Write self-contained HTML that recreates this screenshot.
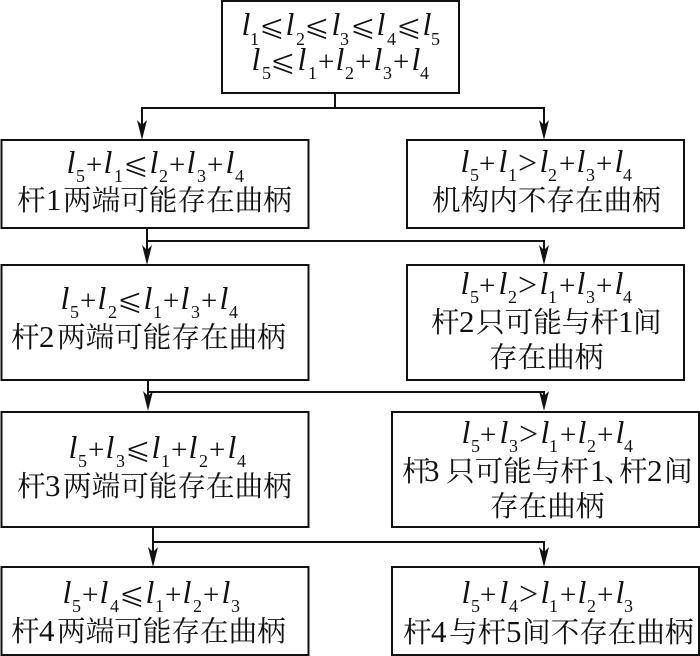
<!DOCTYPE html>
<html lang="zh"><head><meta charset="utf-8"><title>曲柄存在条件</title>
<style>
html,body{margin:0;padding:0;background:#fff}
svg{display:block}
.b{fill:#fff;stroke:#111;stroke-width:2}
.c{stroke:#111;stroke-width:2;fill:none}
.i{font:italic 32px "Liberation Serif",serif;fill:#111;transform:translateX(-1.5px)}
.s{font:18px "Liberation Serif",serif;fill:#111}
.o{font:29px "Liberation Serif",serif;fill:#111;transform:translate(-1px,1px)}
.g{font:34px "Liberation Serif",serif;fill:#111;transform:translate(-1px,2px)}
.l{font:31px "DejaVu Sans",sans-serif;fill:#111;stroke:#fff;stroke-width:.8px;transform:translate(-3px,1px)}
.t{font:28.6px "Liberation Serif","Noto Serif CJK SC",serif;fill:#111}
.d{font-size:31px}
</style></head><body>
<svg width="700" height="656" viewBox="0 0 700 656" xmlns="http://www.w3.org/2000/svg">
<defs><path id="a" d="M0 0L-5-20L0-15L5-20Z" fill="#111"/></defs>
<rect class="b" x="222" y="1" width="237" height="92"/>
<rect class="b" x="1.500" y="140" width="307" height="88"/>
<rect class="b" x="407" y="140" width="277" height="88"/>
<rect class="b" x="1.500" y="265" width="307" height="115"/>
<rect class="b" x="407" y="265" width="277" height="115"/>
<rect class="b" x="1.500" y="412" width="307" height="115"/>
<rect class="b" x="392" y="412" width="307" height="115"/>
<rect class="b" x="1.500" y="567" width="307" height="88"/>
<rect class="b" x="392" y="567" width="307" height="88"/>
<path class="c" d="M335 93V108M142 135V108H544V135M147 228V260M147 241H544V260M148 380V406M148 392H544V406M153 527V562M153 542H544V562"/>
<use href="#a" x="142" y="140"/><use href="#a" x="544" y="140"/>
<use href="#a" x="147" y="265"/><use href="#a" x="544" y="265"/>
<use href="#a" x="148" y="411"/><use href="#a" x="544" y="411"/>
<use href="#a" x="153" y="567"/><use href="#a" x="544" y="567"/>

<text class="i" x="243 287 333 378 424" y="35">lllll</text>
<text class="s" x="250 296 340 387 431" y="45">12345</text>
<text class="l" x="262 307 353 399" y="35">⩽⩽⩽⩽</text>
<text class="i" x="253 299 337 375 413" y="70">lllll</text>
<text class="s" x="262 308 345 383 420" y="79">51234</text>
<text class="l" x="273" y="70">⩽</text>
<text class="o" x="319 356 394" y="70">+++</text>

<g transform="translate(68,173)"><text class="i" x="0 37 83 120 159">lllll</text><text class="s" x="8 46 91 129 167" y="9">51234</text><text class="o" x="19 102 140">+++</text><text class="l" x="58">⩽</text></g>
<g transform="translate(62,309)"><text class="i" x="0 37 83 120 159">lllll</text><text class="s" x="8 46 91 129 167" y="9">52134</text><text class="o" x="19 102 140">+++</text><text class="l" x="58">⩽</text></g>
<g transform="translate(70,458)"><text class="i" x="0 37 83 120 159">lllll</text><text class="s" x="8 46 91 129 167" y="9">53124</text><text class="o" x="19 102 140">+++</text><text class="l" x="58">⩽</text></g>
<g transform="translate(64,603)"><text class="i" x="0 37 83 120 159">lllll</text><text class="s" x="8 46 91 129 167" y="9">54123</text><text class="o" x="19 102 140">+++</text><text class="l" x="58">⩽</text></g>

<g transform="translate(462,172)"><text class="i" x="0 38 79 116 154">lllll</text><text class="s" x="8 46 86 124 161" y="9">51234</text><text class="o" x="18 98 135">+++</text><text class="g" x="57">&gt;</text></g>
<g transform="translate(462,294)"><text class="i" x="0 38 79 116 154">lllll</text><text class="s" x="8 46 86 124 161" y="9">52134</text><text class="o" x="18 98 135">+++</text><text class="g" x="57">&gt;</text></g>
<g transform="translate(463,443)"><text class="i" x="0 38 79 116 154">lllll</text><text class="s" x="8 46 86 124 161" y="9">53124</text><text class="o" x="18 98 135">+++</text><text class="g" x="57">&gt;</text></g>
<g transform="translate(463,603)"><text class="i" x="0 38 79 116 154">lllll</text><text class="s" x="8 46 86 124 161" y="9">54123</text><text class="o" x="18 98 135">+++</text><text class="g" x="57">&gt;</text></g>

<text class="t" x="17" y="210">杆<tspan class="d" x="46">1</tspan><tspan x="63">两端可能存在曲柄</tspan></text>
<text class="t" x="11" y="347">杆<tspan class="d" x="39">2</tspan><tspan x="57">两端可能存在曲柄</tspan></text>
<text class="t" x="17" y="496">杆<tspan class="d" x="45">3</tspan><tspan x="63">两端可能存在曲柄</tspan></text>
<text class="t" x="11" y="641">杆<tspan class="d" x="39">4</tspan><tspan x="57">两端可能存在曲柄</tspan></text>
<text class="t" x="432" y="210">机构内不存在曲柄</text>
<text class="t" x="431" y="332">杆<tspan class="d" x="459">2</tspan><tspan x="476">只可能与杆</tspan><tspan class="d" x="618">1</tspan><tspan x="633">间</tspan></text>
<text class="t" x="489" y="367">存在曲柄</text>
<text class="t" x="402" y="481">杆<tspan class="d" x="424">3</tspan><tspan x="446">只可能与杆</tspan><tspan class="d" x="590">1</tspan><tspan x="604">、</tspan><tspan x="619">杆</tspan><tspan class="d" x="647">2</tspan><tspan x="664">间</tspan></text>
<text class="t" x="490" y="516">存在曲柄</text>
<text class="t" x="403" y="642">杆<tspan class="d" x="431">4</tspan><tspan x="449">与杆</tspan><tspan class="d" x="506">5</tspan><tspan x="522">间不存在曲柄</tspan></text>
</svg>
</body></html>
